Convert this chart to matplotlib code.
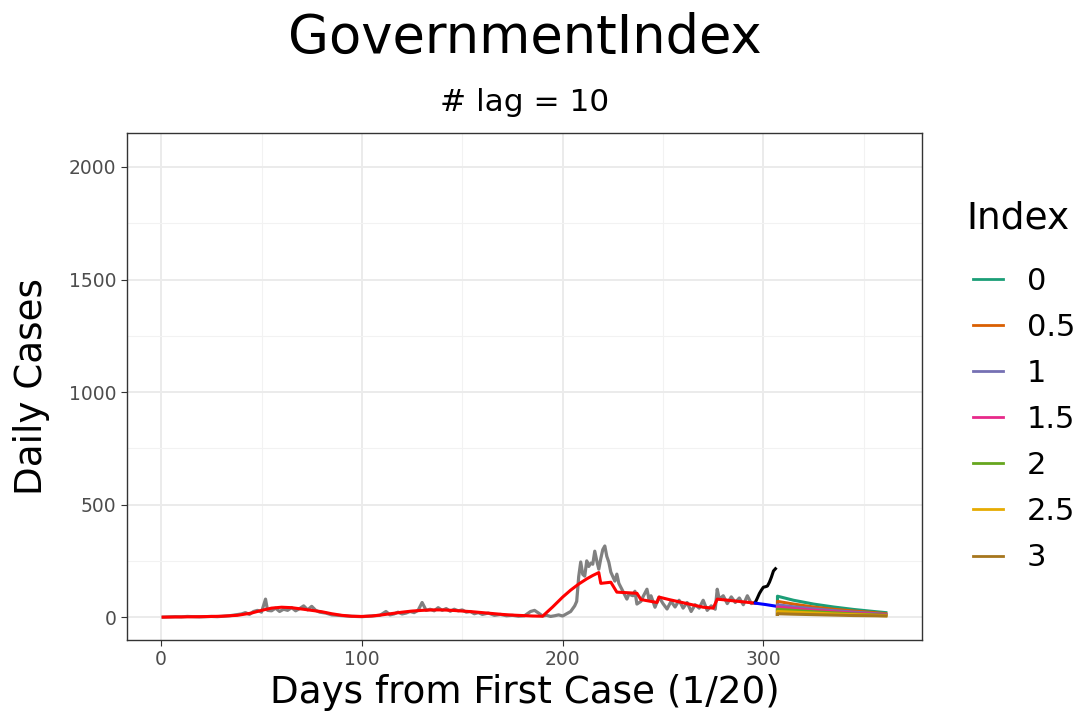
import matplotlib
matplotlib.use("Agg")
import matplotlib.pyplot as plt
from matplotlib.ticker import MultipleLocator
from matplotlib.lines import Line2D

# observed daily cases (gray)
gray_days = [1, 4, 7, 10, 13, 16, 19, 22, 25, 28, 31, 34, 37, 40, 42, 44, 46, 48, 50,
             52, 53, 55, 57, 59, 61, 63, 65, 67, 69, 71, 73, 75, 77, 79, 82, 85, 88, 91,
             94, 97, 100, 103, 106, 109, 112, 114, 116, 118, 120, 122, 124, 126, 128,
             130, 132, 134, 136, 138, 140, 142, 144, 146, 148, 150, 152, 154, 156, 158,
             160, 163, 166, 169, 172, 175, 178, 181, 184, 186, 188, 190, 192, 194, 196,
             198, 200, 202, 204, 206, 207, 208, 209, 210, 211, 212, 213, 214, 215, 216,
             217, 218, 219, 220, 221, 222, 223, 224, 225, 226, 227, 228, 230, 232, 233,
             235, 236, 237, 239, 240, 242, 243, 244, 246, 248, 250, 252, 254, 256, 258,
             260, 262, 264, 266, 268, 270, 272, 274, 276, 277, 278, 280, 282, 284, 286,
             288, 290, 292, 294, 296]
gray_cases = [0, 1, 2, 1, 3, 2, 1, 2, 3, 2, 4, 6, 10, 14, 20, 12, 25, 30, 22,
              80, 30, 28, 40, 25, 35, 30, 42, 28, 38, 50, 32, 48, 30, 22, 18, 10, 8, 6,
              4, 3, 2, 4, 6, 8, 25, 10, 14, 22, 14, 18, 25, 20, 30,
              65, 30, 35, 28, 42, 30, 38, 26, 35, 28, 32, 22, 25, 15, 20,
              12, 18, 8, 12, 6, 8, 4, 6, 25, 30, 18, 5, 8, 3, 6,
              10, 5, 15, 25, 50, 70, 180, 245, 190, 182, 250, 225, 240, 235, 293,
              250, 213, 260, 300, 316, 270, 244, 200, 180, 160, 191, 150, 115, 80, 102,
              95, 115, 58, 70, 90, 124, 80, 95, 44, 89, 60, 36, 70, 45, 75,
              40, 65, 25, 55, 40, 75, 30, 50, 35, 124, 80, 95, 60, 90, 65,
              85, 55, 95, 60, 66]

# fitted values (red)
fit_days = [1, 10, 20, 30, 38, 45, 50, 55, 60, 65, 70, 75, 80, 85, 90, 95, 100, 105,
            110, 115, 120, 125, 130, 135, 140, 145, 150, 155, 160, 165, 170, 175, 180,
            185, 190, 195, 200, 204, 208, 212, 215, 218, 219, 224, 227, 237, 239, 247,
            248, 253, 270, 275, 277, 296]
fit_cases = [0, 1, 2, 4, 8, 18, 30, 40, 44, 42, 36, 30, 24, 15, 8, 4, 3, 5,
             10, 16, 22, 27, 30, 32, 32, 30, 27, 24, 20, 16, 12, 9, 7,
             5, 4, 45, 89, 120, 147, 170, 185, 198, 150, 155, 111, 106, 78, 65,
             89, 78, 44, 40, 80, 62]

# recent observations (black) and projection (blue)
recent_days = [296, 297, 298, 299, 300, 301, 302, 303, 304, 305, 306]
recent_cases = [66, 85, 105, 120, 133, 135, 138, 155, 178, 205, 215]
proj_days = [296, 301, 306]
proj_cases = [62, 56, 49]

# scenario forecasts by index
index_labels = ["0", "0.5", "1", "1.5", "2", "2.5", "3"]
index_colors = ["#1B9E77", "#D95F02", "#7570B3", "#E7298A", "#66A61E", "#E6AB02", "#A6761D"]
fc_days = [307, 307, 315, 325, 335, 345, 355, 361]
fc_cases = [
    [12, 93, 75, 58, 45, 34, 25, 20],
    [12, 70, 58, 45, 35, 27, 20, 15],
    [12, 55, 46, 37, 29, 22, 16, 12],
    [12, 45, 38, 30, 24, 18, 13, 10],
    [12, 35, 30, 24, 19, 14, 10, 8],
    [12, 25, 22, 18, 14, 11, 8, 6],
    [12, 15, 13, 11, 9, 7, 6, 5],
]

fig = plt.figure(figsize=(10.79, 7.2), dpi=100)
ax = fig.add_axes([0.1177, 0.111, 0.7368, 0.704])

ax.plot(gray_days, gray_cases, color="#808080", lw=2.3)
ax.plot(fit_days, fit_cases, color="red", lw=2.2)
ax.plot(recent_days, recent_cases, color="black", lw=2.2)
ax.plot(proj_days, proj_cases, color="blue", lw=2.2)
for vals, col in zip(fc_cases, index_colors):
    ax.plot(fc_days, vals, color=col, lw=2.2)

ax.set_xlim(-17, 379)
ax.set_ylim(-102, 2150)
ax.xaxis.set_major_locator(MultipleLocator(100))
ax.xaxis.set_minor_locator(MultipleLocator(50))
ax.yaxis.set_major_locator(MultipleLocator(500))
ax.yaxis.set_minor_locator(MultipleLocator(250))
ax.grid(which="major", color="#EBEBEB", lw=1.4)
ax.grid(which="minor", color="#F2F2F2", lw=0.8)
ax.set_axisbelow(True)
for s in ax.spines.values():
    s.set_color("#333333")
    s.set_linewidth(1)
ax.tick_params(which="major", length=4, color="#333333", labelsize=13.5,
               labelcolor="#4D4D4D")
ax.tick_params(which="minor", length=0)

ax.set_xlabel("Days from First Case (1/20)", fontsize=26.8, labelpad=3)
ax.set_ylabel("Daily Cases", fontsize=26.8, labelpad=14)

fig.text(0.486, 0.947, "GovernmentIndex", ha="center", va="center", fontsize=38)
fig.text(0.486, 0.857, "# lag = 10", ha="center", va="center", fontsize=22.5)

# legend
fig.text(0.896, 0.697, "Index", ha="left", va="center", fontsize=27)
handles = [Line2D([], [], color=c, lw=2) for c in index_colors]
leg = fig.legend(handles, index_labels, loc="upper left",
                 bbox_to_anchor=(0.876, 0.668), frameon=False, fontsize=22,
                 handlelength=1.0, handletextpad=0.78, labelspacing=0.56)

fig.savefig("out.png", dpi=100)
